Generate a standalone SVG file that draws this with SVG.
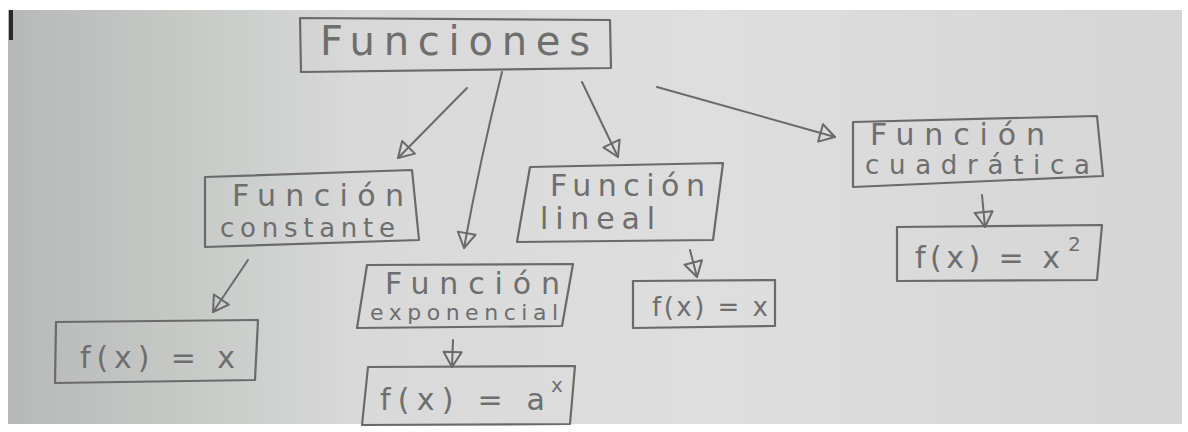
<svg xmlns="http://www.w3.org/2000/svg" width="1188" height="432" viewBox="0 0 1188 432">
<defs>
<linearGradient id="paper" x1="0" y1="0" x2="1" y2="0">
<stop offset="0" stop-color="#b6b9b7"/>
<stop offset="0.3" stop-color="#d8d9d8"/>
<stop offset="0.6" stop-color="#dedede"/>
<stop offset="1" stop-color="#d4d5d4"/>
</linearGradient>
<marker id="head" markerUnits="userSpaceOnUse" markerWidth="24" markerHeight="24" viewBox="-2 -12 20 24" refX="15" refY="0" orient="auto">
<path d="M0,-9 L15,0 L0,9 Z" fill="none" stroke="#6a6a6a" stroke-width="2" stroke-linejoin="round"/>
</marker>
</defs>
<style>
.box{fill:none;stroke:#6a6a6a;stroke-width:2.2;stroke-linejoin:round}
.t{font-family:"DejaVu Sans","Liberation Sans",sans-serif;fill:#6e6e6e;font-weight:normal}
.big{font-size:40px}
.mid{font-size:30px}
.sm{font-size:26px}
.xs{font-size:22px}
.sup{font-size:20px}
.con{fill:none;stroke:#6a6a6a;stroke-width:2;stroke-linecap:round}
</style>
<rect x="0" y="0" width="1188" height="432" fill="#ffffff"/>
<rect x="8" y="10" width="1174" height="414" fill="url(#paper)"/>
<rect x="9" y="10" width="4" height="30" fill="#2a2a2a"/>

<g id="connectors">
<path class="con" d="M467,88 L398,158" marker-end="url(#head)"/>
<path class="con" d="M502,72 Q480,160 464,248" marker-end="url(#head)"/>
<path class="con" d="M582,82 L618,157" marker-end="url(#head)"/>
<path class="con" d="M657,87 L835,137" marker-end="url(#head)"/>
<path class="con" d="M248,260 L213,312" marker-end="url(#head)"/>
<path class="con" d="M453,340 L452,367" marker-end="url(#head)"/>
<path class="con" d="M690,250 L697,277" marker-end="url(#head)"/>
<path class="con" d="M982,195 L985,227" marker-end="url(#head)"/>
</g>

<g id="funciones">
<polygon class="box" points="300,18 610,20 611,68 301,72"/>
<text class="t big" x="320" y="55" textLength="270" lengthAdjust="spacing">Funciones</text>
</g>

<g id="constante">
<polygon class="box" points="205,177 412,170 419,240 205,247"/>
<text class="t mid" x="232" y="206" textLength="172" lengthAdjust="spacing">Función</text>
<text class="t sm" x="220" y="237" textLength="175" lengthAdjust="spacing">constante</text>
</g>

<g id="lineal">
<polygon class="box" points="530,167 723,163 713,240 517,242"/>
<text class="t mid" x="550" y="196" textLength="155" lengthAdjust="spacing">Función</text>
<text class="t mid" x="540" y="229" textLength="115" lengthAdjust="spacing">lineal</text>
</g>

<g id="cuadratica">
<polygon class="box" points="853,122 1097,116 1103,176 853,187"/>
<text class="t mid" x="870" y="145" textLength="175" lengthAdjust="spacing">Función</text>
<text class="t sm" x="865" y="174" textLength="225" lengthAdjust="spacing">cuadrática</text>
</g>

<g id="exponencial">
<polygon class="box" points="367,265 573,264 562,326 357,328"/>
<text class="t mid" x="385" y="294" textLength="175" lengthAdjust="spacing">Función</text>
<text class="t xs" x="370" y="320" textLength="188" lengthAdjust="spacing">exponencial</text>
</g>

<g id="fx-constante">
<polygon class="box" points="56,322 258,320 255,380 55,383"/>
<text class="t mid" x="80" y="368" textLength="155" lengthAdjust="spacing">f(x) = x</text>
</g>

<g id="fx-exponencial">
<polygon class="box" points="368,367 575,366 570,424 362,425"/>
<text class="t mid" x="380" y="410" textLength="165" lengthAdjust="spacing">f(x) = a</text>
<text class="t sup" x="551" y="392">x</text>
</g>

<g id="fx-lineal">
<polygon class="box" points="633,281 775,280 775,326 633,328"/>
<text class="t sm" x="652" y="316" textLength="116" lengthAdjust="spacing">f(x) = x</text>
</g>

<g id="fx-cuadratica">
<polygon class="box" points="897,227 1102,225 1097,280 897,281"/>
<text class="t mid" x="915" y="268" textLength="145" lengthAdjust="spacing">f(x) = x</text>
<text class="t sup" x="1068" y="251">2</text>
</g>
</svg>
